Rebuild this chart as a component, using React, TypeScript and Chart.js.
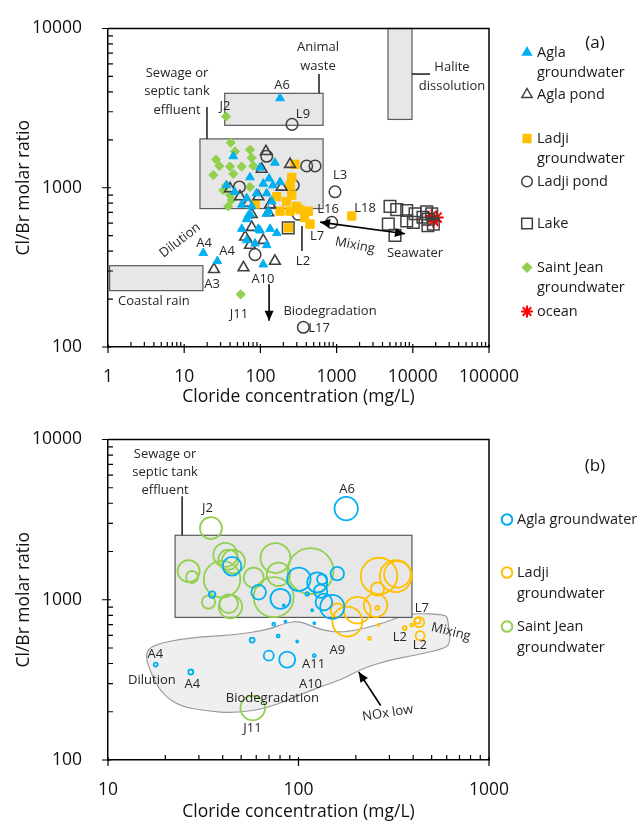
import React, { useEffect, useRef } from "react";
import { Chart, registerables } from "chart.js";
Chart.register(...registerables);

const FONT = "'Open Sans', 'DejaVu Sans', sans-serif";
const BLUE = "#00B0F0";
const ORANGE = "#FFC000";
const GREEN = "#92D050";
const DARK = "#404040";
const RED = "#FF0000";
const BOX_FILL = "#E7E7E7";
const BOX_STROKE = "#5A5A5A";
const TEXT = "#262626";

// ---------- Panel (a) data: chloride (mg/L) vs Cl/Br molar ratio ----------
const aglaGwCl = [181, 44, 99, 155, 36, 46, 73, 109, 130, 146, 181, 89, 121, 66, 141, 77, 57, 127, 73, 121, 69, 66, 57, 99, 134, 164, 66, 85, 121, 17.8, 27.2, 109, 94];
const aglaGwRatio = [3650, 1577, 1338, 1437, 1036, 943, 1163, 1061, 1142, 1036, 1085, 922, 922, 859, 820, 764, 783, 713, 687, 687, 665, 634, 552, 539, 552, 519, 468, 447, 436, 389, 346, 330, 552];

const aglaPondCl = [118, 104, 245, 54, 94, 190, 69, 134, 77, 127, 77, 63, 109, 73, 155, 60, 24.6, 40];
const aglaPondRatio = [1690, 1308, 1404, 879, 879, 1011, 801, 783, 681, 697, 565, 491, 468, 436, 346, 315, 307, 988];

const ladjiGwCl = [284, 258, 245, 258, 164, 221, 85, 181, 299, 425, 245, 448, 380, 1578, 232, 331];
const ladjiGwRatio = [1404, 1163, 1036, 900, 879, 820, 790, 713, 764, 713, 713, 591, 650, 665, 560, 729];

const ladjiPondCl = [260, 405, 521, 121, 270, 53, 953, 314, 863, 85, 366];
const ladjiPondRatio = [2500, 1371, 1371, 1577, 1036, 1011, 943, 681, 606, 380, 133];

const lakeCl = [5020, 6150, 8320, 10700, 15200, 17700, 8320, 10160, 15950, 18600, 4770, 5840, 13600, 15800, 232];
const lakeRatio = [764, 729, 719, 687, 707, 687, 619, 606, 634, 591, 591, 502, 653, 578, 560];

const saintJeanCl = [40.8, 46.4, 73, 26.1, 28.9, 39.9, 56.8, 76.9, 80.7, 24.1, 44.1, 35.4, 73, 32.6, 39.9, 42, 37.9, 35.4, 55.1];
const saintJeanRatio = [1920, 1690, 1730, 1505, 1371, 1358, 1358, 1540, 1371, 1202, 1220, 1036, 1011, 966, 900, 839, 764, 2800, 214];

const oceanCl = [17700, 18600, 20600];
const oceanRatio = [665, 619, 650];

// ---------- Panel (b) data: bubbles (size = relative NOx) ----------
const aglaBubCl = [178, 44.8, 61.8, 80.4, 100.4, 125.4, 130.6, 135.9, 35.2, 159.8, 150.4, 133, 111, 118, 83.7, 17.8, 27.2, 57.1, 69.8, 87.2, 74.1, 78.2, 98.4, 85.4, 121, 121];
const aglaBubRatio = [3705, 1618, 1114, 1014, 1343, 1282, 1130, 968, 1077, 1455, 902, 1343, 1088, 861, 923, 394, 354, 560, 448, 423, 704, 593, 549, 731, 714, 448];
const aglaBubSize = [11.7, 9.3, 7.3, 10, 11.7, 10, 6.7, 8.3, 3.3, 6.7, 12, 5, 1.7, 1, 1, 2, 2.5, 2.5, 5, 8, 1.5, 1.5, 1, 1, 1, 1.5];

const ladjiBubCl = [264.7, 324, 330.6, 259.6, 254, 203.7, 159.8, 180.4, 259.6, 430, 421.7, 361, 435, 393, 236, 263];
const ladjiBubRatio = [1406, 1406, 1442, 1167, 923, 861, 861, 731, 890, 724, 741, 666, 597, 694, 573, 697];
const ladjiBubSize = [18.3, 16, 13.3, 6.7, 11.7, 13.3, 6.7, 15, 2, 5, 3, 2, 4.5, 1.5, 1.5, 1];

const sjBubCl = [34.7, 26.5, 27.6, 41.3, 42.8, 45.5, 39.7, 58.2, 75.7, 115.6, 74.1, 78.5, 43, 43.9, 33.7, 57.5];
const sjBubRatio = [2800, 1510, 1387, 1907, 1778, 1729, 1343, 1375, 1821, 1510, 1038, 1442, 945, 907, 968, 211];
const sjBubSize = [11, 11, 6, 12, 10, 11.7, 18.3, 10, 15, 23, 20, 11.7, 9.3, 11.7, 6.7, 12.3];

// NOx-low envelope outline (chloride, ratio)
const blobCl = [15.5, 17.3, 26.1, 45.5, 68.7, 87.5, 102.5, 130.6, 172.6, 260.6, 344, 403, 594, 609, 631, 559, 403, 294, 212, 172.6, 130.6, 102.5, 68.7, 45.5, 33.2, 23.9, 19.5, 17.3];
const blobRatio = [456, 525, 578, 603, 647, 724, 734, 647, 621, 694, 788, 822, 811, 745, 525, 489, 449, 419, 369, 321, 287, 256, 210, 196, 202, 216, 256, 321];

// ---------- helpers ----------
const zip = (xs: number[], ys: number[]) => xs.map((x, i) => ({ x, y: ys[i] }));
const zip3 = (xs: number[], ys: number[], rs: number[]) => xs.map((x, i) => ({ x, y: ys[i], r: rs[i] }));
const decades = (min: number, max: number) => {
  const out: number[] = [];
  for (let e = Math.round(Math.log10(min)); e <= Math.round(Math.log10(max)); e++) out.push(Math.pow(10, e));
  return out;
};

function logScale(min: number, max: number, isX: boolean, size: number) {
  return {
    type: "logarithmic",
    min,
    max,
    grid: { display: false },
    border: { display: true, color: "#000", width: 1.5 },
    ticks: {
      color: "#111",
      font: { family: FONT, size: 17.5 },
      padding: isX ? 12 : 18,
      autoSkip: false,
      maxRotation: 0,
      callback: (v: any) => String(v),
    },
    afterBuildTicks: (s: any) => {
      s.ticks = decades(min, max).map((v) => ({ value: v }));
    },
    afterFit: (s: any) => {
      if (isX) s.height = size;
      else s.width = size;
    },
  };
}

function drawMarker(ctx: CanvasRenderingContext2D, style: string, x: number, y: number, r: number, fill: string | null, stroke: string | null, lw: number) {
  ctx.beginPath();
  if (style === "triangle") {
    ctx.moveTo(x, y - r);
    ctx.lineTo(x + r * 0.866, y + r / 2);
    ctx.lineTo(x - r * 0.866, y + r / 2);
    ctx.closePath();
  } else if (style === "rect") {
    const s = r * Math.SQRT1_2;
    ctx.rect(x - s, y - s, 2 * s, 2 * s);
  } else if (style === "rectRot") {
    ctx.moveTo(x - r, y);
    ctx.lineTo(x, y - r);
    ctx.lineTo(x + r, y);
    ctx.lineTo(x, y + r);
    ctx.closePath();
  } else if (style === "star") {
    for (let k = 0; k < 4; k++) {
      const a = (k * Math.PI) / 4;
      ctx.moveTo(x - Math.cos(a) * r, y - Math.sin(a) * r);
      ctx.lineTo(x + Math.cos(a) * r, y + Math.sin(a) * r);
    }
    fill = null;
  } else {
    ctx.arc(x, y, r, 0, Math.PI * 2);
  }
  if (fill) {
    ctx.fillStyle = fill;
    ctx.fill();
  }
  if (stroke) {
    ctx.strokeStyle = stroke;
    ctx.lineWidth = lw;
    ctx.stroke();
  }
}

function arrowHead(ctx: CanvasRenderingContext2D, fx: number, fy: number, tx: number, ty: number) {
  const a = Math.atan2(ty - fy, tx - fx);
  const L = 10, W = 4.5;
  ctx.beginPath();
  ctx.moveTo(tx, ty);
  ctx.lineTo(tx - L * Math.cos(a) + W * Math.sin(a), ty - L * Math.sin(a) - W * Math.cos(a));
  ctx.lineTo(tx - L * Math.cos(a) - W * Math.sin(a), ty - L * Math.sin(a) + W * Math.cos(a));
  ctx.closePath();
  ctx.fill();
}

type TextSpec = { x: number; y: number; lines: string[]; rot?: number; size?: number; lh?: number };
type LineSpec = { x0: number; y0: number; x1: number; y1: number; head0?: boolean; head1?: boolean };
type BoxSpec = { x0: number; x1: number; y0: number; y1: number };
type LegendItem = { ds: number; dy: number; lines: string[]; r: number; lw?: number };

type Spec = {
  boxes: BoxSpec[];
  leaders: LineSpec[];
  arrows: LineSpec[];
  texts: TextSpec[];
  blob?: { xs: number[]; ys: number[] };
  legend: { dx: number; textDx: number; items: LegendItem[]; size: number; lh: number };
  panel: { text: string; dx: number; dy: number };
  xTitleDy: number;
};

function overlay(spec: Spec) {
  return {
    id: "overlay",
    beforeDatasetsDraw(chart: any) {
      const { ctx, scales } = chart;
      const X = scales.x, Y = scales.y;
      ctx.save();
      if (spec.blob) {
        const pts = spec.blob.xs.map((v, i) => [X.getPixelForValue(v), Y.getPixelForValue(spec.blob!.ys[i])]);
        const n = pts.length;
        ctx.beginPath();
        const mid = (a: number[], b: number[]) => [(a[0] + b[0]) / 2, (a[1] + b[1]) / 2];
        let m0 = mid(pts[n - 1], pts[0]);
        ctx.moveTo(m0[0], m0[1]);
        for (let i = 0; i < n; i++) {
          const p = pts[i];
          const m = mid(p, pts[(i + 1) % n]);
          ctx.quadraticCurveTo(p[0], p[1], m[0], m[1]);
        }
        ctx.closePath();
        ctx.fillStyle = "#EFEFEF";
        ctx.fill();
        ctx.strokeStyle = "#9A9A9A";
        ctx.lineWidth = 1.2;
        ctx.stroke();
      }
      for (const b of spec.boxes) {
        const x0 = X.getPixelForValue(b.x0), x1 = X.getPixelForValue(b.x1);
        const y0 = Y.getPixelForValue(b.y1), y1 = Y.getPixelForValue(b.y0);
        ctx.fillStyle = BOX_FILL;
        ctx.fillRect(x0, y0, x1 - x0, y1 - y0);
        ctx.strokeStyle = BOX_STROKE;
        ctx.lineWidth = 1.2;
        ctx.strokeRect(x0, y0, x1 - x0, y1 - y0);
      }
      ctx.restore();
    },
    afterDraw(chart: any) {
      const { ctx, chartArea: ca, scales } = chart;
      const X = scales.x, Y = scales.y;
      ctx.save();
      // frame (top, right)
      ctx.strokeStyle = "#000";
      ctx.lineWidth = 1.5;
      ctx.beginPath();
      ctx.moveTo(ca.left, ca.top);
      ctx.lineTo(ca.right, ca.top);
      ctx.lineTo(ca.right, ca.bottom);
      ctx.stroke();
      // tick marks
      ctx.lineWidth = 1.2;
      ctx.beginPath();
      for (const e of decades(X.min, X.max)) {
        for (let m = 1; m <= 9; m++) {
          const v = m * e;
          if (v > X.max * 1.0001) break;
          const px = X.getPixelForValue(v);
          if (m === 1) {
            ctx.moveTo(px, ca.bottom - 3);
            ctx.lineTo(px, ca.bottom + 6);
          } else {
            ctx.moveTo(px, ca.bottom);
            ctx.lineTo(px, ca.bottom - 5);
          }
        }
      }
      for (const e of decades(Y.min, Y.max)) {
        for (let m = 1; m <= 9; m++) {
          const v = m * e;
          if (v > Y.max * 1.0001) break;
          const py = Y.getPixelForValue(v);
          if (m === 1) {
            ctx.moveTo(ca.left - 6, py);
            ctx.lineTo(ca.left + 3, py);
          } else {
            ctx.moveTo(ca.left, py);
            ctx.lineTo(ca.left + 5, py);
          }
        }
      }
      ctx.stroke();
      // leaders
      ctx.strokeStyle = "#1a1a1a";
      ctx.lineWidth = 1.5;
      for (const l of spec.leaders) {
        ctx.beginPath();
        ctx.moveTo(X.getPixelForValue(l.x0), Y.getPixelForValue(l.y0));
        ctx.lineTo(X.getPixelForValue(l.x1), Y.getPixelForValue(l.y1));
        ctx.stroke();
      }
      // arrows
      ctx.fillStyle = "#000";
      ctx.strokeStyle = "#000";
      ctx.lineWidth = 1.6;
      for (const a of spec.arrows) {
        const x0 = X.getPixelForValue(a.x0), y0 = Y.getPixelForValue(a.y0);
        const x1 = X.getPixelForValue(a.x1), y1 = Y.getPixelForValue(a.y1);
        ctx.beginPath();
        ctx.moveTo(x0, y0);
        ctx.lineTo(x1, y1);
        ctx.stroke();
        if (a.head1) arrowHead(ctx, x0, y0, x1, y1);
        if (a.head0) arrowHead(ctx, x1, y1, x0, y0);
      }
      // annotation texts
      ctx.fillStyle = TEXT;
      ctx.textAlign = "center";
      ctx.textBaseline = "middle";
      for (const t of spec.texts) {
        const px = X.getPixelForValue(t.x), py = Y.getPixelForValue(t.y);
        ctx.font = `${t.size || 13}px ${FONT}`;
        const lh = t.lh || 18;
        ctx.save();
        ctx.translate(px, py);
        if (t.rot) ctx.rotate((t.rot * Math.PI) / 180);
        t.lines.forEach((s, i) => ctx.fillText(s, 0, (i - (t.lines.length - 1) / 2) * lh));
        ctx.restore();
      }
      // axis titles
      ctx.fillStyle = "#111";
      ctx.font = `17.5px ${FONT}`;
      ctx.fillText("Cloride concentration (mg/L)", (ca.left + ca.right) / 2, ca.bottom + spec.xTitleDy);
      ctx.save();
      ctx.translate(24, (ca.top + ca.bottom) / 2);
      ctx.rotate(-Math.PI / 2);
      ctx.fillText("Cl/Br molar ratio", 0, 0);
      ctx.restore();
      // panel label
      ctx.font = `17px ${FONT}`;
      ctx.fillText(spec.panel.text, ca.right + spec.panel.dx, ca.top + spec.panel.dy);
      // legend
      const lg = spec.legend;
      ctx.textAlign = "left";
      ctx.font = `${lg.size}px ${FONT}`;
      for (const it of lg.items) {
        const ds = chart.data.datasets[it.ds];
        const y = ca.top + it.dy;
        const style = ds.pointStyle || "circle";
        const bg = ds.pointBackgroundColor;
        const fill = bg && bg !== "transparent" ? bg : null;
        drawMarker(ctx, style, ca.right + lg.dx, y, it.r, fill, ds.pointBorderColor || ds.borderColor, it.lw || 1.5);
        ctx.fillStyle = "#1a1a1a";
        it.lines.forEach((s, i) => ctx.fillText(s, ca.right + lg.textDx, y + i * lg.lh));
      }
      ctx.restore();
    },
  };
}

// ---------- annotation specs (positions in data coordinates) ----------
const topSpec: Spec = {
  boxes: [
    { x0: 16.1, x1: 665, y0: 740, y1: 2027 },
    { x0: 34, x1: 665, y0: 2466, y1: 3917 },
    { x0: 4728, x1: 9760, y0: 2685, y1: 10000 },
    { x0: 1.05, x1: 17.6, y0: 226, y1: 324 },
  ],
  leaders: [
    { x0: 19.9, y0: 3219, x1: 19.9, y1: 2027 },
    { x0: 588, y0: 5176, x1: 588, y1: 3917 },
    { x0: 9760, y0: 5176, x1: 16800, y1: 5176 },
    { x0: 351, y0: 575, x1: 351, y1: 400 },
  ],
  arrows: [
    { x0: 130, y0: 248, x1: 130, y1: 146, head1: true },
    { x0: 606, y0: 608, x1: 7900, y1: 514, head0: true, head1: true },
  ],
  texts: [
    { x: 8.05, y: 4025, lines: ["Sewage or", "septic tank", "effluent"], lh: 18.5 },
    { x: 570, y: 6620, lines: ["Animal", "waste"], lh: 19 },
    { x: 32700, y: 5000, lines: ["Halite", "dissolution"], lh: 19 },
    { x: 192, y: 4380, lines: ["A6"] },
    { x: 34.3, y: 3265, lines: ["J2"] },
    { x: 362, y: 2877, lines: ["L9"] },
    { x: 1108, y: 1191, lines: ["L3"] },
    { x: 771, y: 730, lines: ["L16"] },
    { x: 2360, y: 740, lines: ["L18"] },
    { x: 553, y: 493, lines: ["L7"] },
    { x: 362, y: 347, lines: ["L2"] },
    { x: 1743, y: 435, lines: ["Mixing"], rot: 11 },
    { x: 10700, y: 389, lines: ["Seawater"] },
    { x: 8.81, y: 467, lines: ["Dilution"], rot: -38 },
    { x: 18.2, y: 447, lines: ["A4"] },
    { x: 36.5, y: 400, lines: ["A4"] },
    { x: 23.2, y: 248, lines: ["A3"] },
    { x: 108, y: 267, lines: ["A10"] },
    { x: 52.4, y: 161, lines: ["J11"] },
    { x: 4.01, y: 193, lines: ["Coastal rain"] },
    { x: 819, y: 168, lines: ["Biodegradation"] },
    { x: 588, y: 131, lines: ["L17"] },
  ],
  legend: {
    dx: 38,
    textDx: 48,
    size: 14.5,
    lh: 20.5,
    items: [
      { ds: 0, dy: 24, lines: ["Agla", "groundwater"], r: 5 },
      { ds: 1, dy: 66, lines: ["Agla pond"], r: 6 },
      { ds: 2, dy: 110, lines: ["Ladji", "groundwater"], r: 5.5 },
      { ds: 3, dy: 153, lines: ["Ladji pond"], r: 5.3 },
      { ds: 4, dy: 195, lines: ["Lake"], r: 7.5 },
      { ds: 5, dy: 239, lines: ["Saint Jean", "groundwater"], r: 4.5 },
      { ds: 6, dy: 283, lines: ["ocean"], r: 6, lw: 2 },
    ],
  },
  panel: { text: "(a)", dx: 106, dy: 15 },
  xTitleDy: 50,
};

const bottomSpec: Spec = {
  boxes: [{ x0: 22.5, x1: 394, y0: 776, y1: 2525 }],
  leaders: [{ x0: 24.5, y0: 4430, x1: 24.5, y1: 2525 }],
  arrows: [{ x0: 270, y0: 219, x1: 207, y1: 354, head1: true }],
  blob: { xs: blobCl, ys: blobRatio },
  texts: [
    { x: 19.95, y: 6210, lines: ["Sewage or", "septic tank", "effluent"], lh: 18 },
    { x: 180, y: 4870, lines: ["A6"] },
    { x: 33.3, y: 3705, lines: ["J2"] },
    { x: 17.7, y: 456, lines: ["A4"] },
    { x: 17.0, y: 316, lines: ["Dilution"] },
    { x: 27.7, y: 295, lines: ["A4"] },
    { x: 73, y: 242, lines: ["Biodegradation"] },
    { x: 57.3, y: 157, lines: ["J11"] },
    { x: 120, y: 396, lines: ["A11"] },
    { x: 115.6, y: 295, lines: ["A10"] },
    { x: 160, y: 482, lines: ["A9"] },
    { x: 294, y: 196, lines: ["NOx low"], rot: -9 },
    { x: 631, y: 630, lines: ["Mixing"], rot: 14 },
    { x: 444, y: 881, lines: ["L7"] },
    { x: 340, y: 587, lines: ["L2"] },
    { x: 433, y: 517, lines: ["L2"] },
  ],
  legend: {
    dx: 18,
    textDx: 28,
    size: 14.5,
    lh: 21,
    items: [
      { ds: 0, dy: 80, lines: ["Agla groundwater"], r: 5.3, lw: 2 },
      { ds: 1, dy: 133, lines: ["Ladji", "groundwater"], r: 5.3, lw: 2 },
      { ds: 2, dy: 187, lines: ["Saint Jean", "groundwater"], r: 5.3, lw: 2 },
    ],
  },
  panel: { text: "(b)", dx: 106, dy: 27 },
  xTitleDy: 52,
};

function pt(style: string, r: number, bg: string, border: string, bw: number) {
  return { pointStyle: style, pointRadius: r, pointHoverRadius: r, pointBackgroundColor: bg, pointBorderColor: border, pointBorderWidth: bw, backgroundColor: bg, borderColor: border };
}

function makeTop(): any {
  return {
    type: "scatter",
    data: {
      datasets: [
        { label: "Agla groundwater", data: zip(aglaGwCl, aglaGwRatio), ...pt("triangle", 5, BLUE, BLUE, 1) },
        { label: "Agla pond", data: zip(aglaPondCl, aglaPondRatio), ...pt("triangle", 6.2, "transparent", DARK, 1.6) },
        { label: "Ladji groundwater", data: zip(ladjiGwCl, ladjiGwRatio), ...pt("rect", 5.9, ORANGE, ORANGE, 1) },
        { label: "Ladji pond", data: zip(ladjiPondCl, ladjiPondRatio), ...pt("circle", 5.8, "transparent", DARK, 1.5) },
        { label: "Lake", data: zip(lakeCl, lakeRatio), ...pt("rect", 8.2, "transparent", DARK, 1.5) },
        { label: "Saint Jean groundwater", data: zip(saintJeanCl, saintJeanRatio), ...pt("rectRot", 4.6, GREEN, GREEN, 1) },
        { label: "ocean", data: zip(oceanCl, oceanRatio), ...pt("star", 7, RED, RED, 2) },
      ],
    },
    options: {
      animation: false,
      responsive: false,
      devicePixelRatio: 1,
      layout: { padding: { left: 0, right: 151, top: 18, bottom: 0 } },
      plugins: { legend: { display: false }, tooltip: { enabled: false } },
      scales: { x: logScale(1, 100000, true, 64), y: logScale(100, 10000, false, 108) },
    },
    plugins: [overlay(topSpec)],
  };
}

function bub(label: string, data: any[], color: string) {
  return { label, data, backgroundColor: "transparent", borderColor: color, borderWidth: 1.8, pointBorderColor: color, pointStyle: "circle", hoverRadius: 0 };
}

function makeBottom(): any {
  return {
    type: "bubble",
    data: {
      datasets: [
        bub("Agla groundwater", zip3(aglaBubCl, aglaBubRatio, aglaBubSize), BLUE),
        bub("Ladji groundwater", zip3(ladjiBubCl, ladjiBubRatio, ladjiBubSize), ORANGE),
        bub("Saint Jean groundwater", zip3(sjBubCl, sjBubRatio, sjBubSize), GREEN),
      ],
    },
    options: {
      animation: false,
      responsive: false,
      devicePixelRatio: 1,
      layout: { padding: { left: 0, right: 151, top: 21, bottom: 0 } },
      plugins: { legend: { display: false }, tooltip: { enabled: false } },
      scales: { x: logScale(10, 1000, true, 62), y: logScale(100, 10000, false, 108) },
    },
    plugins: [overlay(bottomSpec)],
  };
}

function ChartCanvas({ make, top }: { make: () => any; top: number }) {
  const ref = useRef<HTMLCanvasElement>(null);
  useEffect(() => {
    const chart = new Chart(ref.current as HTMLCanvasElement, make());
    return () => chart.destroy();
  }, []);
  return <canvas ref={ref} width={640} height={411} style={{ position: "absolute", left: 0, top, width: 640, height: 411 }} />;
}

export default function App() {
  return (
    <div style={{ position: "absolute", left: 0, top: 0, width: 640, height: 822, background: "#fff" }}>
      <ChartCanvas make={makeTop} top={0} />
      <ChartCanvas make={makeBottom} top={411} />
    </div>
  );
}
